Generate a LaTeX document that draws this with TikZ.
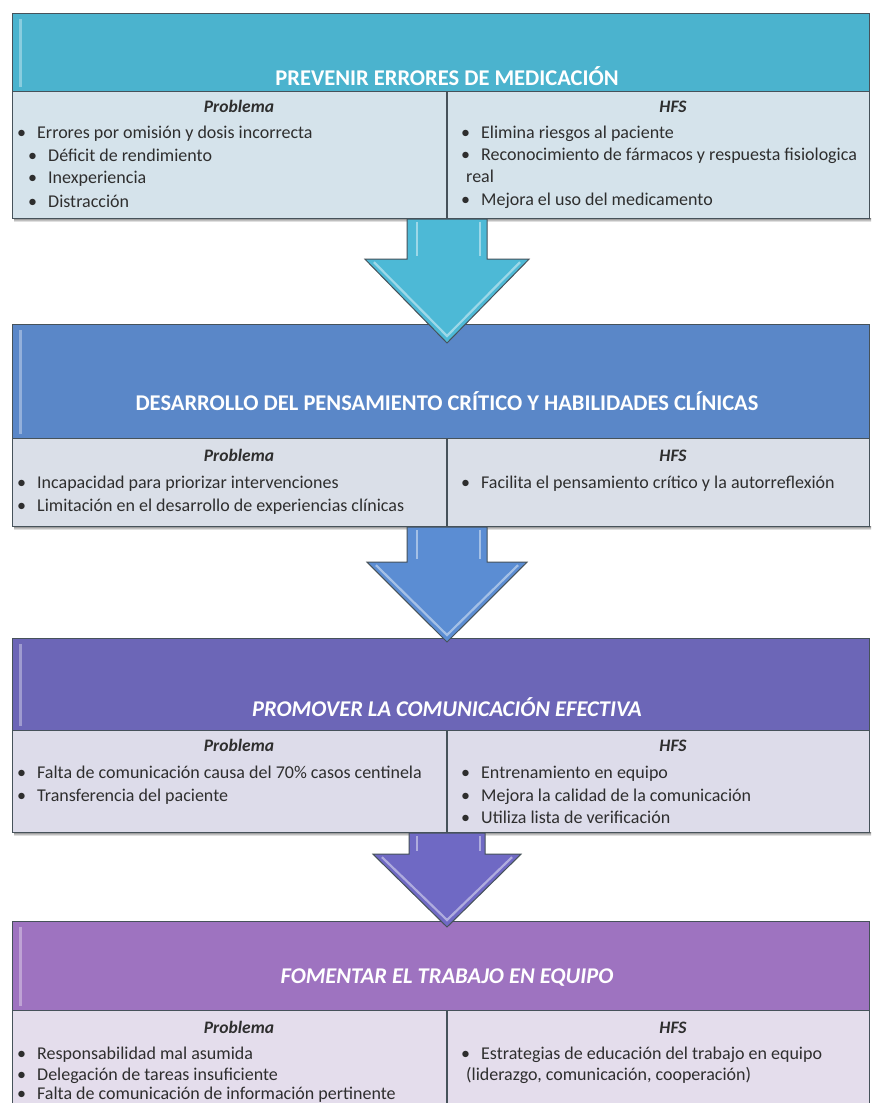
\documentclass[tikz,border=0pt]{standalone}
\usepackage{fontspec}
\setmainfont{Carlito}
\usetikzlibrary{calc}

\definecolor{hdrA}{HTML}{4BB3CE}
\definecolor{bodyA}{HTML}{D5E3EB}
\definecolor{arrA}{HTML}{4DB9D6}
\definecolor{hdrB}{HTML}{5A87C8}
\definecolor{bodyB}{HTML}{DADFE8}
\definecolor{arrB}{HTML}{5B8DD3}
\definecolor{hdrC}{HTML}{6C66B7}
\definecolor{bodyC}{HTML}{DDDCEA}
\definecolor{arrC}{HTML}{6F69C4}
\definecolor{hdrD}{HTML}{9E73C0}
\definecolor{bodyD}{HTML}{E4DDEC}
\definecolor{edge}{HTML}{46525A}
\definecolor{shade}{HTML}{8A949A}
\definecolor{ink}{HTML}{2E2E2E}

% one bulleted line of a column: name, x of bullet, baseline y, text
\newcommand\bulline[4]{\node[itemtxt] (#1) at (#2,#3) {\makebox[20pt][l]{\textbullet}#4};}
% a wrapped continuation line: name, x, baseline y, text
\newcommand\contline[4]{\node[itemtxt] (#1) at (#2,#3) {#4};}

% block arrow hanging from a box: name, source node, target node,
% shaft half width, shaft length, head half width, tip depth into target, fill
\newcommand\flowarrow[8]{%
  \coordinate (#1top) at (#2.south -| ax);
  \coordinate (#1tip) at (#3.north -| ax);
  \coordinate (#1tip) at ($(#1tip)+(0,#7)$);
  \coordinate (#1neck) at ($(#1top)+(0,#5)$);
  \draw[arrowline, fill=#8]
    ($(#1top)+(-#4,0)$) -- ($(#1neck)+(-#4,0)$) -- ($(#1neck)+(-#6,0)$)
    -- (#1tip) -- ($(#1neck)+(#6,0)$) -- ($(#1neck)+(#4,0)$)
    -- ($(#1top)+(#4,0)$) -- cycle;
  \draw[glint] ($(#1top)+(-30,3)$) -- ($(#1neck)+(-30,-3)$);
  \draw[glint] ($(#1top)+(33,3)$) -- ($(#1neck)+(33,-3)$);
  \draw[glint] ($(#1neck)+(-#6+9,3)$) -- ($(#1tip)+(0,-7)$) -- ($(#1neck)+(#6-9,3)$);
}

\begin{document}
\begin{tikzpicture}[x=1pt,y=-1pt,
  panel/.style={rectangle, draw=edge, line width=1.2pt, minimum width=857,
    anchor=north west, inner sep=0pt},
  hdrtxt/.style={text=white, font=\fontsize{22.5}{26}\selectfont\bfseries,
    anchor=base, inner sep=0pt},
  coltitle/.style={text=ink, font=\fontsize{17.5}{20}\selectfont\bfseries\itshape,
    anchor=base, inner sep=0pt},
  itemtxt/.style={text=ink, font=\fontsize{18}{21}\selectfont,
    anchor=base west, inner sep=0pt},
  divider/.style={draw=edge, line width=1.2pt},
  arrowline/.style={draw=edge, line width=1pt, line join=miter},
  glint/.style={draw=white, opacity=0.45, line width=2.2pt},
  hilite/.style={draw=white, opacity=0.35, line width=3pt}]

\useasboundingbox (0,0) rectangle (874,1103);
\clip (0,0) rectangle (874,1103);
\fill[white] (0,0) rectangle (874,1103);
\coordinate (ax) at (447,0);

% ---------- block 1 ----------
\fill[shade] (14,218) rectangle (871,222);
\node[panel, fill=bodyA, minimum height=127] (b1) at (12,91) {};
\node[panel, fill=hdrA, minimum height=78] (h1) at (12,13) {};
\draw[hilite] (20,19) -- (20,87);
\draw[divider] (b1.north -| ax) -- (b1.south -| ax);
\node[hdrtxt] (t1) at (447,85) {PREVENIR ERRORES DE MEDICACIÓN};
\node[coltitle] (p1) at (239,112) {Problema};
\node[coltitle] (s1) at (673,112) {HFS};
\bulline{p1a}{17}{138}{Errores por omisión y dosis incorrecta}
\bulline{p1b}{28}{161}{Déficit de rendimiento}
\bulline{p1c}{28}{183}{Inexperiencia}
\bulline{p1d}{28}{207}{Distracción}
\bulline{s1a}{461}{138}{Elimina riesgos al paciente}
\bulline{s1b}{461}{160}{Reconocimiento de fármacos y respuesta fisiologica}
\contline{s1c}{466}{182}{real}
\bulline{s1d}{461}{205}{Mejora el uso del medicamento}

% ---------- block 2 ----------
\fill[shade] (14,526) rectangle (871,530);
\node[panel, fill=bodyB, minimum height=88] (b2) at (12,438) {};
\node[panel, fill=hdrB, minimum height=114] (h2) at (12,324) {};
\draw[hilite] (20,330) -- (20,434);
\draw[divider] (b2.north -| ax) -- (b2.south -| ax);
\node[hdrtxt] (t2) at (447,410) {DESARROLLO DEL PENSAMIENTO CRÍTICO Y HABILIDADES CLÍNICAS};
\node[coltitle] (p2) at (239,461) {Problema};
\node[coltitle] (s2) at (673,461) {HFS};
\bulline{p2a}{17}{488}{Incapacidad para priorizar intervenciones}
\bulline{p2b}{17}{511}{Limitación en el desarrollo de experiencias clínicas}
\bulline{s2a}{461}{488}{Facilita el pensamiento crítico y la autorreflexión}

% ---------- block 3 ----------
\fill[shade] (14,832) rectangle (871,836);
\node[panel, fill=bodyC, minimum height=102] (b3) at (12,730) {};
\node[panel, fill=hdrC, minimum height=92] (h3) at (12,638) {};
\draw[hilite] (20,644) -- (20,726);
\draw[divider] (b3.north -| ax) -- (b3.south -| ax);
\node[hdrtxt, font=\fontsize{22.5}{26}\selectfont\bfseries\itshape] (t3) at (447,716) {PROMOVER LA COMUNICACIÓN EFECTIVA};
\node[coltitle] (p3) at (239,751) {Problema};
\node[coltitle] (s3) at (673,751) {HFS};
\bulline{p3a}{17}{778}{Falta de comunicación causa del 70\% casos centinela}
\bulline{p3b}{17}{801}{Transferencia del paciente}
\bulline{s3a}{461}{778}{Entrenamiento en equipo}
\bulline{s3b}{461}{801}{Mejora la calidad de la comunicación}
\bulline{s3c}{461}{823}{Utiliza lista de verificación}

% ---------- block 4 ----------
\node[panel, fill=bodyD, minimum height=110] (b4) at (12,1010) {};
\node[panel, fill=hdrD, minimum height=89] (h4) at (12,921) {};
\draw[hilite] (20,927) -- (20,1006);
\draw[divider] (b4.north -| ax) -- (b4.south -| ax);
\node[hdrtxt, font=\fontsize{22.5}{26}\selectfont\bfseries\itshape] (t4) at (447,983) {FOMENTAR EL TRABAJO EN EQUIPO};
\node[coltitle] (p4) at (239,1033) {Problema};
\node[coltitle] (s4) at (673,1033) {HFS};
\bulline{p4a}{17}{1059}{Responsabilidad mal asumida}
\bulline{p4b}{17}{1080}{Delegación de tareas insuficiente}
\bulline{p4c}{17}{1099}{Falta de comunicación de información pertinente}
\bulline{s4a}{461}{1059}{Estrategias de educación del trabajo en equipo}
\contline{s4b}{466}{1080}{(liderazgo, comunicación, cooperación)}

% ---------- connecting arrows ----------
\flowarrow{k1}{b1}{h2}{40}{40}{82}{19}{arrA}
\flowarrow{k2}{b2}{h3}{40}{35}{80}{4}{arrB}
\flowarrow{k3}{b3}{h4}{38}{21}{74}{6}{arrC}

\end{tikzpicture}
\end{document}
